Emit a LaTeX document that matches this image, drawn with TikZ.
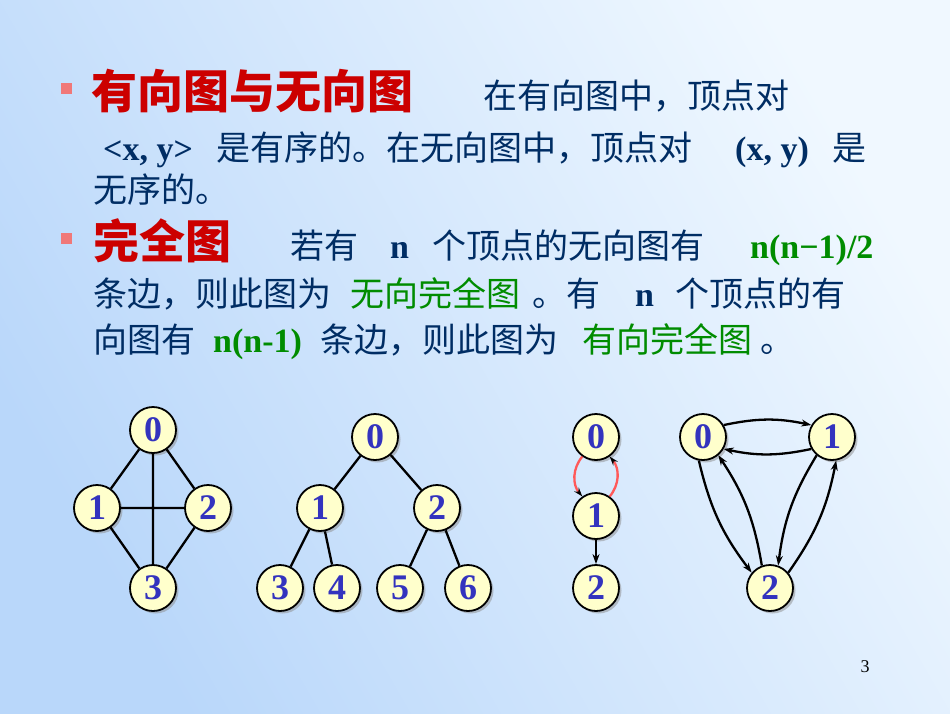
\documentclass[tikz,border=0pt]{standalone}
\usepackage{fontspec}
\setmainfont{Liberation Serif}
\newfontfamily\cjk{Noto Sans CJK SC}
\usetikzlibrary{shadows,arrows.meta}
\definecolor{tblue}{RGB}{0,45,100}
\definecolor{tred}{RGB}{204,0,0}
\definecolor{tgreen}{RGB}{0,140,0}
\definecolor{nblue}{RGB}{51,51,190}
\definecolor{bgA}{RGB}{185,215,250}
\definecolor{bgB}{RGB}{240,248,255}
\begin{document}
\begin{tikzpicture}[x=1pt,y=-1pt,
  vtx/.style={circle,draw=black,line width=1.8pt,fill={rgb,255:red,255;green,255;blue,204},minimum size=46pt,inner sep=0pt,
    font=\fontsize{36}{36}\selectfont\bfseries,text=nblue,drop shadow={shadow xshift=2.5pt,shadow yshift=-2.5pt,fill=black!45}},
  ed/.style={line width=2.3pt,black},
  ar/.style={line width=2.3pt,black,-{Stealth[length=10pt,width=7pt]}},
  txt/.style={anchor=base west,inner sep=0pt,text=tblue,font=\fontsize{34}{34}\selectfont},
  ttl/.style={anchor=base west,inner sep=0pt,text=tred,font=\fontsize{46}{46}\selectfont\cjk\bfseries},
  bul/.style={fill={rgb,255:red,240;green,120;blue,120},minimum size=11pt,inner sep=0pt}]
\shade[left color=bgA,right color=bgB,shading angle=120] (0,0) rectangle (950,713);
\useasboundingbox (0,0) rectangle (950,713);
% text
\node[bul] (b1) at (66,88) {};
\node[ttl] (t1) at (91,108) {有向图与无向图};
\node[txt] (l1) at (483,108) {\cjk 在有向图中，顶点对};
\node[txt] (l2a) at (103,160) {\bfseries <x, y>};
\node[txt] (l2b) at (216,160) {\cjk 是有序的。在无向图中，顶点对};
\node[txt] (l2c) at (735,160) {\bfseries (x, y)};
\node[txt] (l2d) at (832,160) {\cjk 是};
\node[txt] (l3) at (93,202) {\cjk 无序的。};
\node[bul] (b2) at (66,238) {};
\node[ttl] (t2) at (93,258) {完全图};
\node[txt] (l4a) at (290,258) {\cjk 若有};
\node[txt] (l4b) at (390,258) {\bfseries n};
\node[txt] (l4c) at (432,258) {\cjk 个顶点的无向图有};
\node[txt,text=tgreen] (l4d) at (750,258) {\bfseries n(n−1)/2};
\node[txt] (l5a) at (93,306) {\cjk 条边，则此图为};
\node[txt,text=tgreen] (l5b) at (350,306) {\cjk 无向完全图};
\node[txt] (l5c) at (532,306) {\cjk 。有};
\node[txt] (l5d) at (635,306) {\bfseries n};
\node[txt] (l5e) at (675,306) {\cjk 个顶点的有};
\node[txt] (l6a) at (93,352) {\cjk 向图有};
\node[txt,text=tgreen] (l6b) at (213,352) {\bfseries n(n-1)};
\node[txt] (l6c) at (320,352) {\cjk 条边，则此图为};
\node[txt,text=tgreen] (l6d) at (582,352) {\cjk 有向完全图};
\node[txt] (l6e) at (760,352) {\cjk 。};
\node[anchor=center,font=\fontsize{18}{18}\selectfont] (pg) at (865,667) {3};
% graph 1
\node[vtx] (a0) at (153,430) {0};
\node[vtx] (a1) at (97,508) {1};
\node[vtx] (a2) at (208,508) {2};
\node[vtx] (a3) at (153,588) {3};
\draw[ed] (a0)--(a1) (a0)--(a2) (a1)--(a3) (a2)--(a3) (a1)--(a2) (a0)--(a3);
% graph 2
\node[vtx] (b0) at (375,437) {0};
\node[vtx] (bb1) at (320,508) {1};
\node[vtx] (bb2) at (437,508) {2};
\node[vtx] (bb3) at (280,588) {3};
\node[vtx] (bb4) at (337,588) {4};
\node[vtx] (bb5) at (400,588) {5};
\node[vtx] (bb6) at (468,588) {6};
\draw[ed] (b0)--(bb1) (b0)--(bb2) (bb1)--(bb3) (bb1)--(bb4) (bb2)--(bb5) (bb2)--(bb6);
% graph 3
\node[vtx] (c0) at (596,437) {0};
\node[vtx] (c1) at (596,516) {1};
\node[vtx] (c2) at (596,588) {2};
\draw[line width=2.3pt,red!65,-{Stealth[length=9pt,width=6pt,black]}] (c0.235) to[bend right=40] (c1.125);
\draw[line width=2.3pt,red!65,-{Stealth[length=9pt,width=6pt,black]}] (c1.55) to[bend right=40] (c0.305);
\draw[ar] (c1)--(c2);
% graph 4
\node[vtx] (d0) at (703,437) {0};
\node[vtx] (d1) at (832,437) {1};
\node[vtx] (d2) at (770,588) {2};
\draw[ar] (d0.30) to[bend left=12] (d1.150);
\draw[ar] (d1.210) to[bend left=12] (d0.330);
\draw[ar] (d0.260) to[bend right=12] (d2.140);
\draw[ar] (d2.110) to[bend right=12] (d0.310);
\draw[ar] (d1.230) to[bend right=12] (d2.70);
\draw[ar] (d2.40) to[bend right=12] (d1.280);
\end{tikzpicture}
\end{document}
